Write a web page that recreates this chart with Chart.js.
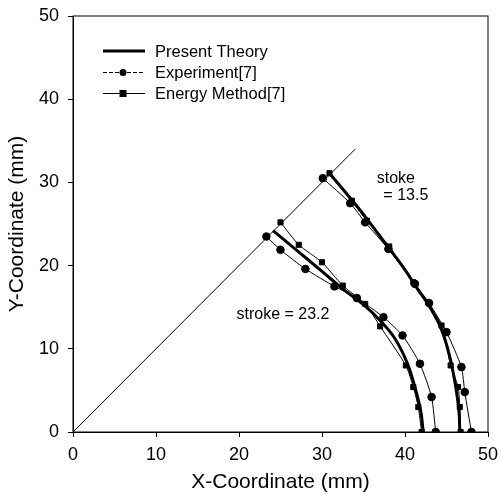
<!DOCTYPE html>
<html>
<head>
<meta charset="utf-8">
<script src="https://cdn.jsdelivr.net/npm/chart.js@4/dist/chart.umd.min.js"></script>
<style>
  html, body { margin: 0; padding: 0; background: #fff; }
  canvas { display: block; }
</style>
</head>
<body>
<canvas id="chart" width="502" height="495"></canvas>
<script>
// x/y pairs (mm)
const theoryOuterX = [30.9, 33.5, 35.5, 37.9, 39.8, 41.5, 43.0, 44.4, 45.4, 46.1, 46.5, 46.6];
const theoryOuterY = [31.1, 28.0, 25.5, 22.3, 19.8, 17.2, 15.0, 12.3, 9.0, 5.5, 2.5, 0];
const theoryInnerX = [24.1, 27.0, 30.0, 32.5, 35.0, 37.0, 38.8, 40.3, 41.3, 41.9, 42.2];
const theoryInnerY = [24.2, 21.8, 19.3, 17.2, 15.3, 13.4, 11.2, 8.2, 5.0, 2.5, 0];

const expOuterX = [30.1, 33.4, 35.2, 38.0, 41.2, 42.9, 45.0, 46.8, 47.2, 48.0];
const expOuterY = [30.5, 27.5, 25.2, 22.0, 17.8, 15.5, 12.0, 7.8, 4.8, 0];
const expInnerX = [23.3, 25.0, 28.0, 31.5, 34.2, 37.4, 39.7, 41.8, 43.2, 43.7];
const expInnerY = [23.5, 21.9, 19.6, 17.5, 16.1, 13.8, 11.6, 8.2, 4.2, 0];

const energyOuterX = [30.9, 33.6, 35.4, 38.1, 41.0, 44.4, 45.5, 46.4, 46.6, 46.7];
const energyOuterY = [31.1, 27.8, 25.4, 22.3, 18.0, 12.8, 8.0, 5.4, 3.0, 0];
const energyInnerX = [25.0, 27.2, 30.0, 32.5, 35.2, 37.0, 40.1, 41.0, 41.6, 42.0];
const energyInnerY = [25.2, 22.5, 20.4, 17.6, 15.4, 12.7, 8.0, 5.4, 3.0, 0];

const diagX = [0, 34];
const diagY = [0, 34];

const xTicks = [0, 10, 20, 30, 40, 50];
const yTicks = [0, 10, 20, 30, 40, 50];

const legendLabels = ['Present Theory', 'Experiment[7]', 'Energy Method[7]'];

function pts(xs, ys) {
    return xs.map((x, i) => ({ x: x, y: ys[i] }));
}

const FONT = "'Liberation Sans', Arial, sans-serif";

function lineSet(data, opts) {
    return Object.assign({
        data: data,
        showLine: true,
        borderColor: '#000',
        backgroundColor: '#000',
        borderWidth: 1,
        pointRadius: 0,
        tension: 0.2
    }, opts);
}

const datasets = [
    lineSet(pts(diagX, diagY), { tension: 0 }),
    lineSet(pts(theoryOuterX, theoryOuterY), { borderWidth: 3, tension: 0.4 }),
    lineSet(pts(theoryInnerX, theoryInnerY), { borderWidth: 3, tension: 0.4 }),
    lineSet(pts(expOuterX, expOuterY), { pointRadius: 3.8, pointStyle: 'circle' }),
    lineSet(pts(expInnerX, expInnerY), { pointRadius: 3.8, pointStyle: 'circle' }),
    lineSet(pts(energyOuterX, energyOuterY), { pointRadius: 3.6, pointStyle: 'rect' }),
    lineSet(pts(energyInnerX, energyInnerY), { pointRadius: 3.6, pointStyle: 'rect' })
];

// frame around the plot, annotations and the legend box
const extras = {
    id: 'extras',
    afterDraw(chart) {
        const ctx = chart.ctx;
        const a = chart.chartArea;
        const xs = chart.scales.x, ys = chart.scales.y;
        ctx.save();
        ctx.strokeStyle = '#000';
        ctx.lineWidth = 1;
        ctx.strokeRect(a.left, a.top, a.right - a.left, a.bottom - a.top);

        ctx.fillStyle = '#000';
        ctx.font = '16px ' + FONT;
        ctx.textAlign = 'center';
        ctx.textBaseline = 'middle';
        ctx.fillText('stoke', xs.getPixelForValue(38.9), ys.getPixelForValue(30.4));
        ctx.fillText('= 13.5', xs.getPixelForValue(40.1), ys.getPixelForValue(28.4));
        ctx.fillText('stroke = 23.2', xs.getPixelForValue(25.3), ys.getPixelForValue(14.1));

        // legend
        ctx.font = '16.5px ' + FONT;
        ctx.textAlign = 'left';
        const lx0 = 103, lx1 = 145, tx = 155;
        const rows = [51, 72.5, 93.5];
        rows.forEach((y, i) => {
            ctx.beginPath();
            ctx.lineWidth = i === 0 ? 3 : 1;
            ctx.setLineDash(i === 1 ? [4, 2] : []);
            ctx.moveTo(lx0, y);
            ctx.lineTo(lx1, y);
            ctx.stroke();
            ctx.setLineDash([]);
            if (i === 1) {
                ctx.beginPath();
                ctx.arc(123, y, 3.5, 0, Math.PI * 2);
                ctx.fill();
            } else if (i === 2) {
                ctx.fillRect(119.5, y - 3.5, 7, 7);
            }
            ctx.fillText(legendLabels[i], tx, y + 1);
        });
        ctx.restore();
    }
};

new Chart(document.getElementById('chart'), {
    type: 'scatter',
    data: { datasets: datasets },
    options: {
        responsive: false,
        animation: false,
        layout: { padding: { top: 16, right: 14, left: 0, bottom: 0 } },
        plugins: {
            legend: { display: false },
            tooltip: { enabled: false }
        },
        scales: {
            x: {
                type: 'linear',
                min: 0,
                max: 50,
                afterBuildTicks: (s) => { s.ticks = xTicks.map(v => ({ value: v })); },
                afterFit: (s) => { s.height = 63; s.paddingLeft = 0; s.paddingRight = 0; },
                grid: { display: true, drawOnChartArea: false, tickLength: 5, color: '#000' },
                border: { display: true, color: '#000' },
                ticks: { color: '#000', font: { family: FONT, size: 18 }, padding: 7 },
                title: { display: true, text: 'X-Coordinate (mm)', color: '#000', font: { family: FONT, size: 21, lineHeight: 0.8 }, padding: { top: 0 } }
            },
            y: {
                type: 'linear',
                min: 0,
                max: 50,
                afterBuildTicks: (s) => { s.ticks = yTicks.map(v => ({ value: v })); },
                afterFit: (s) => { s.width = 73; s.paddingTop = 0; s.paddingBottom = 0; },
                grid: { display: true, drawOnChartArea: false, tickLength: 5, color: '#000' },
                border: { display: true, color: '#000' },
                ticks: { color: '#000', font: { family: FONT, size: 18 }, padding: 9 },
                title: { display: true, text: 'Y-Coordinate (mm)', color: '#000', font: { family: FONT, size: 21, lineHeight: 0.8 }, padding: { top: 8.5 } }
            }
        }
    },
    plugins: [extras]
});
</script>
</body>
</html>
